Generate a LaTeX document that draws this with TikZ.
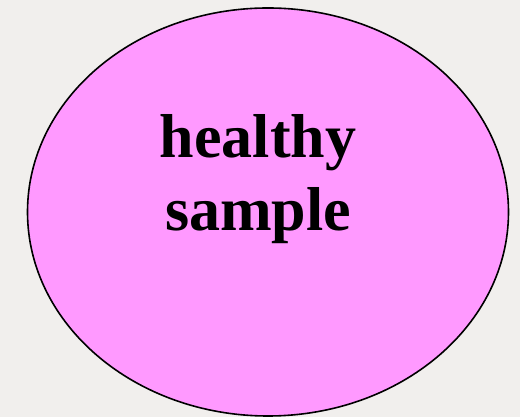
\documentclass[tikz,border=0pt]{standalone}
\usepackage{fontspec}
\setmainfont{Liberation Serif}
\usepackage{xcolor}
\usepackage{tikz}
\usetikzlibrary{shapes.geometric}

\definecolor{paper}{HTML}{F1EFED}
\definecolor{samplepink}{HTML}{FF99FF}

\begin{document}
\begin{tikzpicture}[
    x=1pt, y=1pt,
    blob/.style={ellipse, draw, line width=1.6pt, fill=samplepink, minimum width=481pt, minimum height=408pt, inner sep=0pt},
    caption/.style={align=center, inner sep=0pt, font=\fontsize{62}{73}\selectfont\bfseries}
]
\fill[paper] (0,0) rectangle (520,417);
\useasboundingbox (0,0) rectangle (520,417);
\node[blob] (sample) at (268,205) {};
\node[caption] (label) at (258,238) {healthy\\sample};
\end{tikzpicture}
\end{document}
